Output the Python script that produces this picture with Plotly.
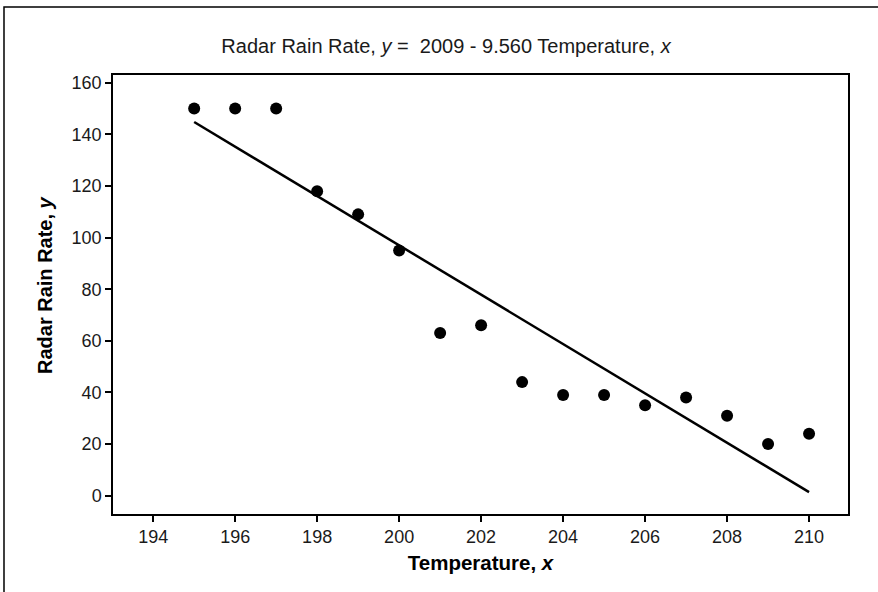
import plotly.graph_objects as go

temperature = [195, 196, 197, 198, 199, 200, 201, 202, 203, 204, 205, 206, 207, 208, 209, 210]
rain_rate = [150, 150, 150, 118, 109, 95, 63, 66, 44, 39, 39, 35, 38, 31, 20, 24]
fit_x = [195, 210]
fit_y = [144.8, 1.4]
x_ticks = [194, 196, 198, 200, 202, 204, 206, 208, 210]
y_ticks = [0, 20, 40, 60, 80, 100, 120, 140, 160]

FONT = "Liberation Sans, Arial, sans-serif"

fig = go.Figure()
fig.add_trace(go.Scatter(x=fit_x, y=fit_y, mode="lines",
                         line=dict(color="black", width=2.5), showlegend=False))
fig.add_trace(go.Scatter(x=temperature, y=rain_rate, mode="markers",
                         marker=dict(color="black", size=12), showlegend=False))

axis_common = dict(showgrid=False, zeroline=False, showline=True, linecolor="black",
                   linewidth=1.5, mirror=True, ticks="outside", ticklen=6, tickwidth=1.5,
                   tickcolor="black", tickfont=dict(family=FONT, size=18, color="#1a1a1a"))

fig.update_xaxes(range=[193.02, 210.95], tickvals=x_ticks,
                 title=dict(text="<b>Temperature, <i>x</i></b>", font=dict(family=FONT, size=20.5, color="black"), standoff=9),
                 **axis_common)
fig.update_yaxes(range=[-7.1, 163], tickvals=y_ticks, **axis_common)

fig.update_layout(
    width=878, height=592,
    margin=dict(l=113, r=30, t=75, b=78),
    paper_bgcolor="white", plot_bgcolor="white",
    title=dict(text="Radar Rain Rate, <i>y</i> =  2009 - 9.560 Temperature, <i>x</i>",
               x=0.508, xanchor="center", y=1 - 46 / 592, yanchor="middle", yref="container",
               font=dict(family=FONT, size=20, color="#1a1a1a")),
    annotations=[dict(text="<b>Radar Rain Rate, <i>y</i></b>", textangle=-90,
                      xref="paper", yref="paper", x=(45 - 113) / 735, y=(514 - 285) / 439,
                      xanchor="center", yanchor="middle", showarrow=False,
                      font=dict(family=FONT, size=20, color="black"))],
    shapes=[dict(type="rect", xref="paper", yref="paper",
                 x0=-0.1483, x1=1.2, y0=-0.4, y1=1.155,
                 line=dict(color="black", width=1.5), fillcolor="rgba(0,0,0,0)", layer="below")],
)

fig.write_html("out.html")
